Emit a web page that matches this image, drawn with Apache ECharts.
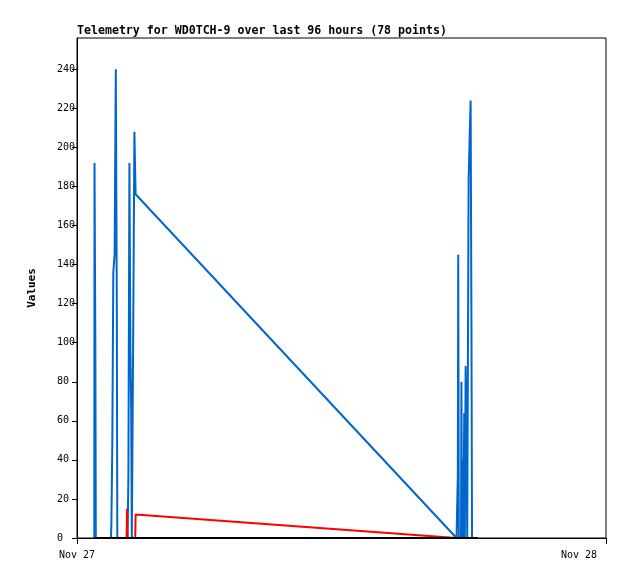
<!DOCTYPE html>
<html><head><meta charset="utf-8">
<script src="https://cdn.jsdelivr.net/npm/echarts@6/dist/echarts.min.js"></script>
<style>html,body{margin:0;padding:0;background:#fff}#c{width:618px;height:579px}</style>
</head><body><div id="c"></div>
<script>
const titleText = "Telemetry for WD0TCH-9 over last 96 hours (78 points)";
const xTickLabels = ["Nov 27", "Nov 28"];
const yTicks = [0,20,40,60,80,100,120,140,160,180,200,220,240];

const blueTimes = ["00:47:06","00:47:40","00:50:00","00:51:10",
  "01:32:34","01:33:39","01:36:06","01:38:49","01:42:22","01:45:38","01:48:21","01:49:43",
  "02:17:45","02:19:56","02:22:39","02:25:22","02:27:33","02:29:11","02:32:59","02:36:15","02:39:32",
  "17:13:07","17:16:39","17:17:44","17:19:22","17:25:22","17:26:27","17:27:49","17:28:54","17:30:32","17:31:54",
  "17:34:04","17:35:43","17:37:53","17:40:04","17:42:14","17:46:03","17:51:30","17:53:41","17:55:19"];
const blueValues = [0,192,97,0,
  0,8,48,136,145,240,120,0,
  0,32,192,97,64,0,104,208,176,
  0,32,145,0,0,80,0,32,40,0,
  64,0,88,56,0,184,224,112,0];

const redTimes = ["00:47:06","02:15:02","02:16:07","02:17:12","02:38:26","02:39:32","17:11:47","18:11:37"];
const redValues = [0,0,15,0,0,12,0,0];

const blackTimes = ["00:47:06","02:16:07","17:13:07","18:11:37"];
const blackValues = [0,0,0,0];

function toMin(s){const p=s.split(":").map(Number);return p[0]*60+p[1]+p[2]/60;}
function pairs(t,v){return t.map((s,i)=>[toMin(s),v[i]]);}

const font = "DejaVu Sans Mono";
const chart = echarts.init(document.getElementById('c'), null, {renderer:'canvas'});
chart.setOption({
  animation:false,
  backgroundColor:'#fff',
  title:{text:titleText,left:77,top:25,padding:0,textStyle:{fontFamily:font,fontSize:11.6,fontWeight:'bold',color:'#000'}},
  grid:{left:77,right:12,top:38,bottom:41,show:true,borderColor:'#000',borderWidth:1,backgroundColor:'transparent',outerBoundsMode:'none',containLabel:false},
  xAxis:{type:'value',min:0,max:1440,interval:1440,
    axisLine:{show:true,onZero:false,lineStyle:{color:'#000',width:1}},
    axisTick:{show:true,length:6,inside:false,lineStyle:{color:'#000'}},
    splitLine:{show:false},
    axisLabel:{margin:12,fontFamily:font,fontSize:10,color:'#000',alignMaxLabel:'right',
      formatter:function(v){return v===0?xTickLabels[0]:(v===1440?'{r|'+xTickLabels[1]+'}':'');},
      rich:{r:{fontFamily:font,fontSize:10,color:'#000',padding:[0,9,0,0]}}}
  },
  yAxis:{type:'value',min:0,max:256,interval:20,name:'Values',nameLocation:'middle',nameGap:39,nameRotate:90,
    nameTextStyle:{fontFamily:font,fontSize:11,fontWeight:'bold',color:'#000'},
    axisLine:{show:true,lineStyle:{color:'#000',width:1}},
    axisTick:{show:true,length:5,lineStyle:{color:'#000'}},
    splitLine:{show:false},
    axisLabel:{margin:20,align:'left',fontFamily:font,fontSize:10,color:'#000',showMaxLabel:false,
      formatter:function(v){return yTicks.indexOf(v)>=0?String(v):'';}}
  },
  series:[
    {type:'line',data:pairs(blueTimes,blueValues),showSymbol:false,symbol:'none',lineStyle:{color:'#0066cc',width:2},z:2},
    {type:'line',data:pairs(redTimes,redValues),showSymbol:false,symbol:'none',lineStyle:{color:'#ff0000',width:2},z:3},
    {type:'line',data:pairs(blackTimes,blackValues),showSymbol:false,symbol:'none',lineStyle:{color:'#000000',width:2},z:4}
  ]
});
</script></body></html>
